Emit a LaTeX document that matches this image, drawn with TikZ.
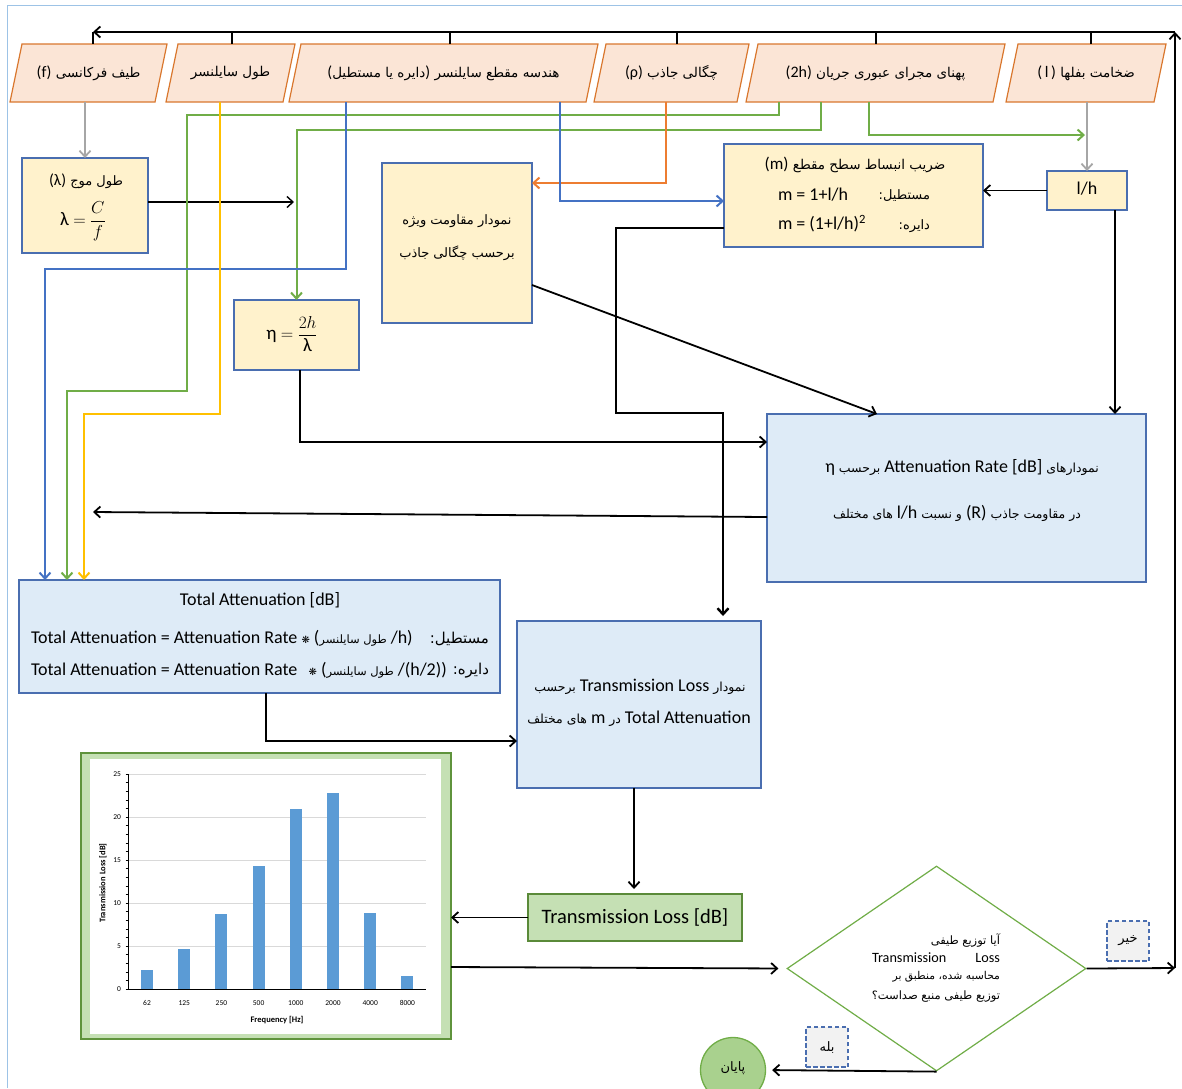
\documentclass[tikz,border=0pt]{standalone}
\usepackage{fontspec}
\setmainfont{Carlito}
\newfontfamily\fa[Script=Arabic]{DejaVu Sans}
\newfontfamily\djv{DejaVu Sans}
\TeXXeTstate=1
\usetikzlibrary{arrows.meta,shapes.geometric,calc,backgrounds}
\newcommand\fsz[1]{\fontsize{#1}{#1}\selectfont}
\newcommand\PR[1]{{\fa\beginR #1\endR}}
\newcommand\LT[1]{\beginL{\rmfamily #1}\endL}
\newcommand\LA[1]{\beginL #1\endL}
\definecolor{peach}{HTML}{FBE5D6}
\definecolor{peachline}{HTML}{D9772E}
\definecolor{yboxc}{HTML}{FFF2CC}
\definecolor{bboxc}{HTML}{DEEBF7}
\definecolor{boxline}{HTML}{4A6EB0}
\definecolor{gline}{HTML}{70AD47}
\definecolor{bline}{HTML}{4472C4}
\definecolor{yline}{HTML}{FFC000}
\definecolor{oline}{HTML}{ED7D31}
\definecolor{grline}{HTML}{A6A6A6}
\definecolor{gfill}{HTML}{C5E0B4}
\definecolor{gcirc}{HTML}{A9D18E}
\definecolor{barc}{HTML}{5B9BD5}
\definecolor{framec}{HTML}{9DC3E6}
\definecolor{gridc}{HTML}{D9D9D9}
\definecolor{dashc}{HTML}{4A6EB0}
\definecolor{dashfill}{HTML}{F2F2F2}
\begin{document}
\begin{tikzpicture}[x=1pt,y=-1pt,
  base/.style={inner sep=0pt, outer sep=0pt},
  inp/.style={base, minimum height=58pt},
  inpshape/.style={draw=peachline, fill=peach, line width=1.2pt},
  ybox/.style={base, draw=boxline, fill=yboxc, line width=1.3pt},
  bbox/.style={base, draw=boxline, fill=bboxc, line width=1.3pt},
  txt/.style={inner sep=0pt, outer sep=0pt},
  pfa/.style={txt, font=\fsz{13}},
  lat/.style={txt, font=\fsz{18}},
  tipb/.style={-{Straight Barb[length=6pt,width=11pt]}},
  blk/.style={draw=black, line width=1.8pt},
  blkarr/.style={blk, tipb},
  garr/.style={draw=gline, line width=2pt, tipb},
  barr/.style={draw=bline, line width=2pt, tipb},
  yarr/.style={draw=yline, line width=2pt, tipb},
  oarr/.style={draw=oline, line width=2pt, tipb},
  grarr/.style={draw=grline, line width=1.8pt, tipb},
  dashbox/.style={base, draw=dashc, fill=dashfill, dash pattern=on 4.5pt off 2.5pt, line width=1.2pt, minimum width=42pt, minimum height=40pt},
]
\useasboundingbox (0,0) rectangle (1182,1088);
\draw[framec, line width=1.3pt] (7.5,1088) -- (7.5,5.5) -- (1182,5.5);

% input parallelograms
\node[inp, minimum width=145pt] (i1) at (88.5,73) {\fsz{13.5}\PR{طیف فرکانسی \LT{\fsz{16}(f)}}};
\node[inp, minimum width=117pt] (i2) at (230.5,73) {\fsz{13.5}\PR{طول سایلنسر}};
\node[inp, minimum width=297pt] (i3) at (443.5,73) {\fsz{13.5}\PR{هندسه مقطع سایلنسر \LT{\fsz{16})}دایره یا مستطیل\LT{\fsz{16}(}}};
\node[inp, minimum width=143pt] (i4) at (671.5,73) {\fsz{13.5}\PR{چگالی جاذب \LT{\fsz{16}(ρ)}}};
\node[inp, minimum width=247pt] (i5) at (875.5,73) {\fsz{13.5}\PR{پهنای مجرای عبوری جریان \LT{\fsz{16}(2h)}}};
\node[inp, minimum width=148pt] (i6) at (1086,73) {\fsz{13.5}\PR{ضخامت بفلها \LT{\fsz{16}(\,l\,)}}};
\begin{scope}[on background layer]
\foreach \n in {i1,i2,i3,i4,i5,i6}
  \draw[inpshape] ($(\n.south west)+(-6,0)$) -- ($(\n.south east)+(-6,0)$) -- ($(\n.north east)+(6,0)$) -- ($(\n.north west)+(6,0)$) -- cycle;
\end{scope}

% boxes
\node[ybox, minimum width=126pt, minimum height=95pt] (lam) at (85,205.5) {};
\node[pfa] (lamt) at (86,181) {\PR{طول موج \LT{\fsz{16}(λ)}}};
\node[lat, font=\fsz{19}] (lamf) at (83,221) {λ $=$ $\displaystyle\frac{C}{f}$};

\node[ybox, minimum width=125pt, minimum height=70pt] (eta) at (296.5,335) {};
\node[lat, font=\fsz{19}] (etaf) at (292,334) {η $=$ $\displaystyle\frac{2h}{\mbox{λ}}$};

\node[ybox, minimum width=150pt, minimum height=160pt] (dens) at (457,243) {};
\node[pfa] (dens1) at (457,221) {\PR{نمودار مقاومت ویژه}};
\node[pfa] (dens2) at (457,253) {\PR{برحسب چگالی جاذب}};

\node[ybox, minimum width=259pt, minimum height=103pt] (mbox) at (853.5,195.5) {};
\node[pfa, font=\fsz{13.5}] (m1) at (855,165) {\PR{ضریب انبساط سطح مقطع \LT{\fsz{17}(m)}}};
\node[lat, anchor=west] (m2) at (778,195) {m = 1+l/h};
\node[pfa, anchor=east] (m2p) at (930,196) {\PR{مستطیل\LA{:}}};
\node[lat, anchor=west] (m3) at (778,224) {m = (1+l/h)\textsuperscript{2}};
\node[pfa, anchor=east] (m3p) at (930,226) {\PR{دایره\LA{:}}};

\node[ybox, minimum width=80pt, minimum height=39pt] (lh) at (1087,190.5) {};
\node[lat] (lht) at (1087,189) {l/h};

\node[bbox, minimum width=379pt, minimum height=168pt] (att) at (956.5,498) {};
\node[pfa, font=\fsz{12.5}] (att1) at (962,468) {\PR{نمودارهای \LT{\fsz{18}Attenuation Rate [dB]} برحسب \LT{\fsz{18}η}}};
\node[pfa, font=\fsz{12.5}] (att2) at (957,513) {\PR{در مقاومت جاذب \LT{\fsz{18}(R)} و نسبت \LT{\fsz{18}l/h} های مختلف}};

\node[bbox, minimum width=481pt, minimum height=113pt] (tot) at (259.5,636.5) {};
\node[lat] (tot1) at (260,600) {Total Attenuation [dB]};
\node[lat, anchor=west] (tot2) at (31,638) {Total Attenuation = Attenuation Rate {\djv\fsz{10}❋} ({\fa\fsz{11.5}\beginR طول سایلنسر\endR} /h)};
\node[pfa, anchor=east, font=\fsz{15}] (tot2p) at (489,639) {\PR{مستطیل\LA{:}}};
\node[lat, anchor=west] (tot3) at (31,670) {Total Attenuation = Attenuation Rate \, {\djv\fsz{10}❋} ({\fa\fsz{11.5}\beginR طول سایلنسر\endR} /(h/2))};
\node[pfa, anchor=east, font=\fsz{15}] (tot3p) at (489,671) {\PR{دایره\LA{:}}};

\node[bbox, minimum width=244pt, minimum height=167pt] (tl) at (639,704.5) {};
\node[pfa, font=\fsz{12.5}] (tl1) at (640,687) {\PR{نمودار \LT{\fsz{18}Transmission Loss} برحسب}};
\node[pfa, font=\fsz{12.5}] (tl2) at (639,719) {\PR{\LT{\fsz{18}Total Attenuation} در \LT{\fsz{18}m} های مختلف}};

\node[base, draw=gline!80!black, fill=gfill, line width=1.3pt, minimum width=214pt, minimum height=47pt, font=\fsz{20.5}] (tlg) at (635,917.5) {Transmission Loss [dB]};

% chart
\node[base, draw=gline!85!black, fill=gfill, line width=1.5pt, minimum width=370pt, minimum height=286pt] (chart) at (266,896) {};
\fill[white] (90,759) rectangle (441,1034);
\foreach \v in {5,10,...,25}
  \draw[gridc, line width=1pt] (128,{989-8.6*\v}) -- (426,{989-8.6*\v});
\foreach \v in {0,...,25}
  \draw[black, line width=0.6pt] (125.5,{989-8.6*\v}) -- (128,{989-8.6*\v});
\foreach \v in {0,5,...,25}
  \node[txt, anchor=east, font=\fsz{7.5}] (yl\v) at (121,{989-8.6*\v}) {\v};
\foreach \f/\val [count=\i from 0] in {62/2.2,125/4.65,250/8.7,500/14.3,1000/20.95,2000/22.8,4000/8.85,8000/1.5}{
  \fill[barc] ({147+37.2*\i-6},989) rectangle ({147+37.2*\i+6},{989-8.6*\val});
  \node[txt, font=\fsz{7.5}] (xl\i) at ({147+37.2*\i},1003) {\f};
}
\draw[black, line width=1pt] (128,774) -- (128,989) -- (426,989);
\node[txt, font=\bfseries\fsz{8.5}] (xlab) at (277,1020) {Frequency [Hz]};
\node[txt, font=\bfseries\fsz{8.5}, rotate=90] (ylab) at (103,883) {Transmission Loss [dB]};

% decision
\node[diamond, draw=gline, line width=1.2pt, fill=white, minimum width=299pt, minimum height=205pt, inner sep=0pt] (dia) at (936.5,968.5) {};
\node[txt, anchor=east, font=\fsz{11.5}] (d1) at (1000,940) {\PR{آیا توزیع طیفی}};
\node[txt, anchor=west, font=\fsz{14.2}] (d2a) at (872,958) {Transmission};
\node[txt, anchor=east, font=\fsz{14.2}] (d2b) at (1000,958) {Loss};
\node[txt, anchor=east, font=\fsz{10.8}] (d3) at (1000,977) {\PR{محاسبه شده\LA{،} منطبق بر}};
\node[txt, anchor=east, font=\fsz{11.5}] (d4) at (1000,997) {\PR{توزیع طیفی منبع صداست\LA{؟}}};

\node[dashbox] (no) at (1128,941) {\fsz{13}\PR{خیر}};
\node[dashbox] (yes) at (827,1047) {\fsz{13}\PR{بله}};
\node[circle, draw=gline, fill=gcirc, line width=1.3pt, minimum size=65pt, inner sep=0pt] (endc) at (733,1070) {};
\node[txt, font=\fsz{13}] (endt) at (733,1068) {\PR{پایان}};

% loop-back
\coordinate (rb) at (1175,968);
\coordinate (rtop) at (1175,32);
\coordinate (ltop) at (93,32);
\draw[blkarr] (dia.east) -- (rb);
\draw[blkarr] (rb) -- (rtop);
\draw[blkarr] (rtop) -- (ltop);
\draw[blk] (ltop) -- (ltop |- i1.north);
\draw[blk] ($(i2.north)+(1.5,-12)$) -- ($(i2.north)+(1.5,0)$);
\draw[blk] ($(i3.north)+(6.5,-12)$) -- ($(i3.north)+(6.5,0)$);
\draw[blk] ($(i4.north)+(5.5,-12)$) -- ($(i4.north)+(5.5,0)$);
\draw[blk] ($(i5.north)+(0.5,-12)$) -- ($(i5.north)+(0.5,0)$);
\draw[blk] ($(i6.north)+(5,-12)$) -- ($(i6.north)+(5,0)$);

% input connectors
\draw[grarr] (lam.north |- i1.south) -- (lam.north);
\draw[grarr] (lh.north |- i6.south) -- (lh.north);
\coordinate (lamend) at (294,202);
\draw[black, line width=1.4pt, tipb] ($(lam.east)+(0,-3.5)$) -- (lamend);
\draw[garr] ($(i5.south)+(-96.5,0)$) -- ++(0,13) -| (187,391) -| ($(tot.north)+(-192.5,0)$);
\draw[garr] ($(i5.south)+(-54.5,0)$) -- ++(0,28) -| (eta.north);
\coordinate (gend) at (1085,135);
\draw[garr] ($(i5.south)+(-6.5,0)$) |- (gend);
\draw[oarr] ($(i4.south)+(-5.5,0)$) |- ($(dens.east)+(0,-60)$);
\draw[barr] ($(i3.south)+(116.5,0)$) |- ($(mbox.west)+(0,5.5)$);
\draw[barr] ($(i3.south)+(-97.5,0)$) -- ++(0,167) -| ($(tot.north)+(-214.5,0)$);
\draw[yarr] ($(i2.south)+(-10.5,0)$) -- ++(0,312) -| ($(tot.north)+(-175.5,0)$);

% process connectors
\draw[blkarr] ($(eta.south)+(3.5,0)$) |- ($(att.west)+(0,-56)$);
\draw[blkarr] ($(dens.east)+(0,42)$) -- ($(att.north)+(-79.5,0)$);
\draw[blkarr] ($(lh.south)+(28,0)$) -- ($(att.north)+(158.5,0)$);
\draw[blkarr] (lh.west) -- (lh.west -| mbox.east);
\draw[blk, line width=2.4pt, tipb, shorten >=5pt] ($(mbox.west)+(0,32.5)$) -| (616,413) -| ($(tl.north)+(84,0)$);
\coordinate (attend) at (93,512);
\draw[blkarr] ($(att.west)+(0,19)$) -- (attend);
\draw[blkarr] ($(tot.south)+(6.5,0)$) |- ($(tl.west)+(0,36.5)$);
\draw[blkarr, shorten >=5pt] ($(tl.south)+(-5,0)$) -- ($(tlg.north)+(-1,0)$);
\draw[blkarr] (tlg.west) -- (tlg.west -| chart.east);
\draw[blkarr, shorten >=8pt] ($(chart.east)+(0,71)$) -- (dia.west);
\draw[blkarr, shorten >=6pt] (dia.south) -- (endc.east);
\end{tikzpicture}
\end{document}
